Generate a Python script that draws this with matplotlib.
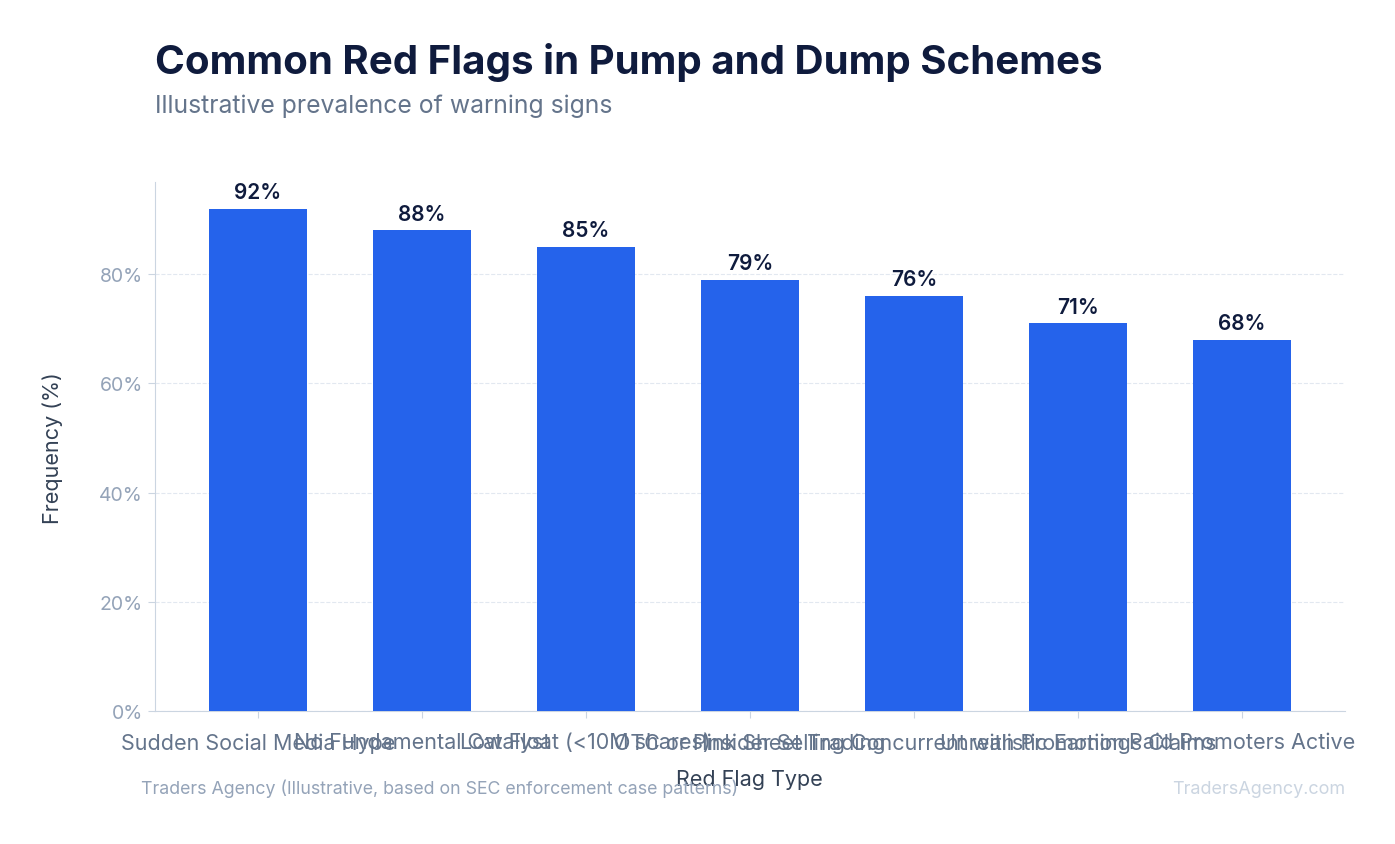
import matplotlib.pyplot as plt

plt.rcParams['font.family'] = ['Inter', 'DejaVu Sans']

flags = ['Sudden Social Media Hype', 'No Fundamental Catalyst', 'Low Float (<10M shares)',
         'OTC or Pink Sheet Trading', 'Insider Selling Concurrent with Promotion',
         'Unrealistic Earnings Claims', 'Paid Promoters Active']
freq = [92, 88, 85, 79, 76, 71, 68]
yticks = [0, 20, 40, 60, 80]

fig = plt.figure(figsize=(13.95, 8.45), dpi=100)
ax = fig.add_axes([0.111, 0.157, 0.853, 0.626])
x = range(len(flags))
ax.bar(x, freq, width=0.6, color='#2563eb', zorder=3)
for i, v in zip(x, freq):
    ax.text(i, v + 1.2, '%d%%' % v, ha='center', va='bottom', fontsize=15,
            fontweight='semibold', color='#0f1b3d')

ax.set_xlim(-0.628, 6.628)
ax.set_ylim(0, 96.8)
ax.set_xticks(list(x))
ax.set_xticklabels(flags, fontsize=15.5, color='#64748b')
ax.set_yticks(yticks)
ax.set_yticklabels(['%d%%' % t for t in yticks], fontsize=14, color='#94a3b8')
ax.tick_params(axis='x', pad=10)
ax.tick_params(axis='both', color='#cbd5e1', length=5)
ax.grid(axis='y', color='#e2e8f0', linestyle='--', linewidth=0.8, zorder=0)
for s in ['top', 'right']:
    ax.spines[s].set_visible(False)
for s in ['left', 'bottom']:
    ax.spines[s].set_color('#cbd5e1')
ax.set_xlabel('Red Flag Type', fontsize=15.5, color='#334155', labelpad=12)
ax.set_ylabel('Frequency (%)', fontsize=15.5, color='#334155', labelpad=26)

fig.text(0.111, 0.926, 'Common Red Flags in Pump and Dump Schemes', fontsize=29,
         fontweight='bold', color='#0f1b3d', va='center')
fig.text(0.111, 0.874, 'Illustrative prevalence of warning signs', fontsize=17.8,
         color='#64748b', va='center')
fig.text(0.101, 0.066, 'Traders Agency (Illustrative, based on SEC enforcement case patterns)',
         fontsize=12.8, color='#94a3b8', va='center')
fig.text(0.964, 0.066, 'TradersAgency.com', fontsize=13, color='#cbd5e1',
         va='center', ha='right')

fig.savefig('out.png', dpi=100)
